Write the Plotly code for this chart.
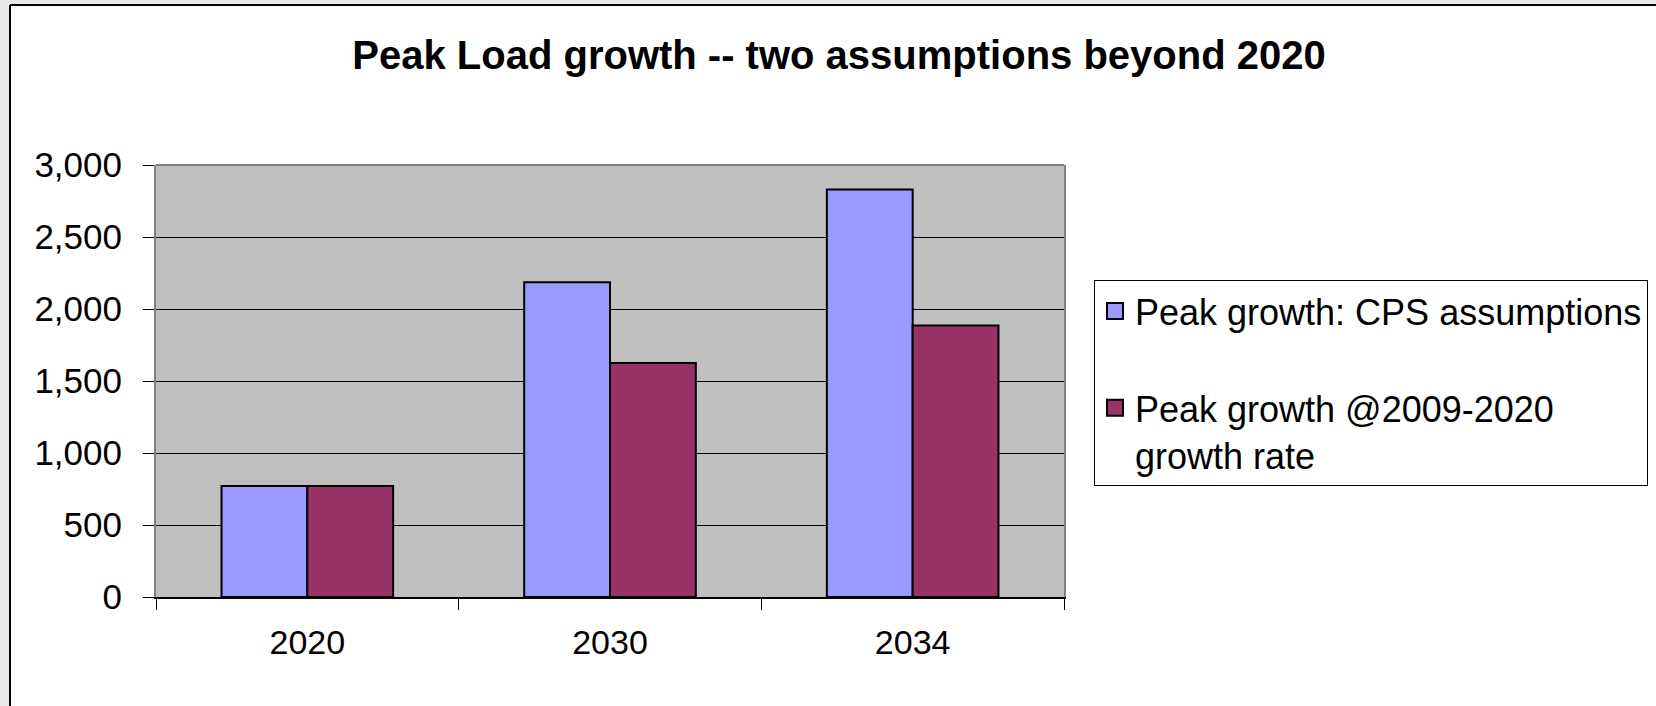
import plotly.graph_objects as go

categories = ["2020", "2030", "2034"]
cps_values = [770, 2185, 2830]
rate_values = [770, 1625, 1885]
series_names = ["Peak growth: CPS assumptions", "Peak growth @2009-2020<br>growth rate"]
series_colors = ["#9999FF", "#993366"]
y_ticks = [0, 500, 1000, 1500, 2000, 2500, 3000]

FONT = "Arial, Liberation Sans, sans-serif"

fig = go.Figure()
for vals, name, color, grp in [(cps_values, series_names[0], series_colors[0], "a"),
                               (rate_values, series_names[1], series_colors[1], "b")]:
    fig.add_trace(go.Bar(x=categories, y=vals, name=name,
                         marker=dict(color=color, line=dict(color="black", width=2)),
                         legendgroup=grp, showlegend=False))
    # legend proxy with a larger square swatch
    fig.add_trace(go.Scatter(x=[None], y=[None], mode="markers", name=name,
                             marker=dict(symbol="square", size=16, color=color,
                                         line=dict(color="black", width=2)),
                             legendgroup=grp, showlegend=True, hoverinfo="skip"))

L, R, T, B = 156, 1064, 165, 597
W, H = 1656, 706
pw, ph = R - L, B - T

def px(x):
    return (x - L) / pw

def py(y):
    return (B - y) / ph

shapes = [
    dict(type="line", xref="paper", yref="paper", x0=0, x1=1, y0=1, y1=1,
         line=dict(color="#808080", width=2), layer="above"),
    dict(type="rect", xref="paper", yref="paper", x0=px(0), x1=px(9), y0=py(W), y1=py(0),
         fillcolor="#e8e8e8", line=dict(width=0), layer="above"),
    dict(type="rect", xref="paper", yref="paper", x0=px(0), x1=px(W + 10), y0=py(4), y1=py(0),
         fillcolor="#e8e8e8", line=dict(width=0), layer="above"),
    dict(type="line", xref="paper", yref="paper", x0=px(10), x1=px(10), y0=py(5), y1=py(H + 10),
         line=dict(color="black", width=2), layer="above"),
    dict(type="line", xref="paper", yref="paper", x0=px(10), x1=px(W + 10), y0=py(5), y1=py(5),
         line=dict(color="black", width=2), layer="above"),
]

fig.update_layout(
    width=W, height=H,
    margin=dict(l=L, r=W - R, t=T, b=H - B, autoexpand=False),
    paper_bgcolor="white",
    plot_bgcolor="#C0C0C0",
    barmode="group",
    bargap=0.433,
    bargroupgap=0,
    font=dict(family=FONT, color="black"),
    title=dict(text="<b>Peak Load growth -- two assumptions beyond 2020</b>",
               x=839 / W, xanchor="center", xref="container",
               y=1 - 55 / H, yanchor="middle", yref="container",
               font=dict(family=FONT, size=40, color="black")),
    xaxis=dict(type="category", tickson="boundaries", ticks="outside", ticklen=11,
               tickcolor="black", tickwidth=1, showline=True, linecolor="black", linewidth=1.5,
               showgrid=False, tickfont=dict(size=34, family=FONT, color="black"),
               ticklabelstandoff=14),
    yaxis=dict(range=[0, 3000], tickvals=y_ticks, tickformat=",", ticks="outside", ticklen=11,
               tickcolor="black", tickwidth=1, showline=True, linecolor="#808080", linewidth=2,
               mirror=True, showgrid=True, gridcolor="black", gridwidth=1, zeroline=False,
               tickfont=dict(size=35, family=FONT, color="black"), ticklabelstandoff=14),
    legend=dict(x=px(1094), y=py(280), xanchor="left", yanchor="top",
                bgcolor="white", bordercolor="black", borderwidth=1,
                font=dict(size=36, family=FONT, color="black"),
                tracegroupgap=47, valign="top", traceorder="grouped",
                itemsizing="trace", itemwidth=30),
    showlegend=True,
    shapes=shapes,
)

fig.write_html("out.html")
